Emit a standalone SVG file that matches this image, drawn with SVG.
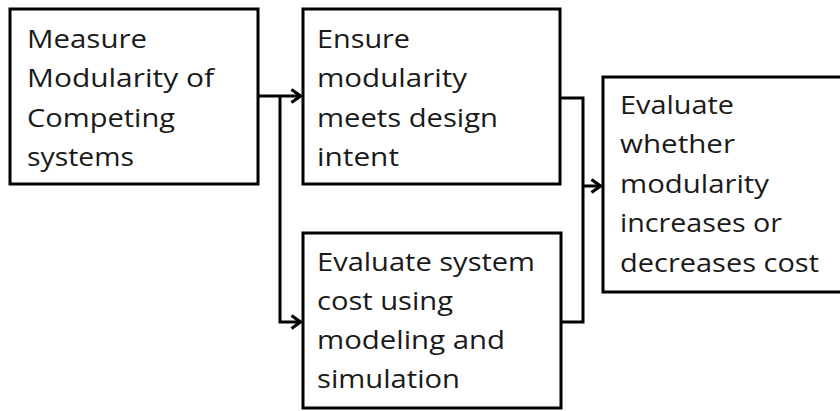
<svg xmlns="http://www.w3.org/2000/svg" width="840" height="411" viewBox="0 0 840 411">
  <style>
    .box { fill: #ffffff; stroke: #000000; stroke-width: 3; }
    .lbl { font-family: "Open Sans", "Liberation Sans", sans-serif; font-size: 26px; fill: #1a1a1a; }
    .wire { fill: none; stroke: #000000; stroke-width: 3; }
    .tip { fill: none; stroke: #000000; stroke-width: 3.2; stroke-linejoin: miter; }
  </style>
  <defs>
    <marker id="chevron" markerUnits="userSpaceOnUse" viewBox="0 0 12 14" refX="11" refY="7" markerWidth="12" markerHeight="14" orient="auto" overflow="visible">
      <path class="tip" d="M1.5,0.5 L10.5,7 L1.5,13.5"/>
    </marker>
  </defs>

  <rect width="840" height="411" fill="#ffffff"/>

  <g id="connectors">
    <!-- first step fans out to both checks -->
    <path class="wire" d="M258,96 H301" marker-end="url(#chevron)"/>
    <path class="wire" d="M280,96 V322 H301" marker-end="url(#chevron)"/>
    <!-- both checks join into the final evaluation -->
    <path class="wire" d="M560,98 H583 V322 H561"/>
    <path class="wire" d="M583,186 H601" marker-end="url(#chevron)"/>
  </g>

  <g id="measure">
    <rect class="box" x="10" y="9" width="248" height="175"/>
    <text class="lbl" x="27" y="48" textLength="120" lengthAdjust="spacingAndGlyphs">Measure</text>
    <text class="lbl" x="27" y="87" textLength="187" lengthAdjust="spacingAndGlyphs">Modularity of</text>
    <text class="lbl" x="27" y="127" textLength="148" lengthAdjust="spacingAndGlyphs">Competing</text>
    <text class="lbl" x="27" y="166" textLength="107" lengthAdjust="spacingAndGlyphs">systems</text>
  </g>

  <g id="ensure">
    <rect class="box" x="303" y="9" width="257" height="175"/>
    <text class="lbl" x="317" y="48" textLength="93" lengthAdjust="spacingAndGlyphs">Ensure</text>
    <text class="lbl" x="317" y="87" textLength="150" lengthAdjust="spacingAndGlyphs">modularity</text>
    <text class="lbl" x="317" y="127" textLength="181" lengthAdjust="spacingAndGlyphs">meets design</text>
    <text class="lbl" x="317" y="166" textLength="82" lengthAdjust="spacingAndGlyphs">intent</text>
  </g>

  <g id="cost">
    <rect class="box" x="303" y="233" width="258" height="175"/>
    <text class="lbl" x="317" y="271" textLength="218" lengthAdjust="spacingAndGlyphs">Evaluate system</text>
    <text class="lbl" x="317" y="310" textLength="136" lengthAdjust="spacingAndGlyphs">cost using</text>
    <text class="lbl" x="317" y="349" textLength="188" lengthAdjust="spacingAndGlyphs">modeling and</text>
    <text class="lbl" x="317" y="388" textLength="143" lengthAdjust="spacingAndGlyphs">simulation</text>
  </g>

  <g id="evaluate">
    <rect class="box" x="603" y="77" width="250" height="215"/>
    <text class="lbl" x="620" y="114" textLength="114" lengthAdjust="spacingAndGlyphs">Evaluate</text>
    <text class="lbl" x="620" y="153" textLength="115" lengthAdjust="spacingAndGlyphs">whether</text>
    <text class="lbl" x="620" y="193" textLength="149" lengthAdjust="spacingAndGlyphs">modularity</text>
    <text class="lbl" x="620" y="232" textLength="162" lengthAdjust="spacingAndGlyphs">increases or</text>
    <text class="lbl" x="620" y="272" textLength="199" lengthAdjust="spacingAndGlyphs">decreases cost</text>
  </g>
</svg>
